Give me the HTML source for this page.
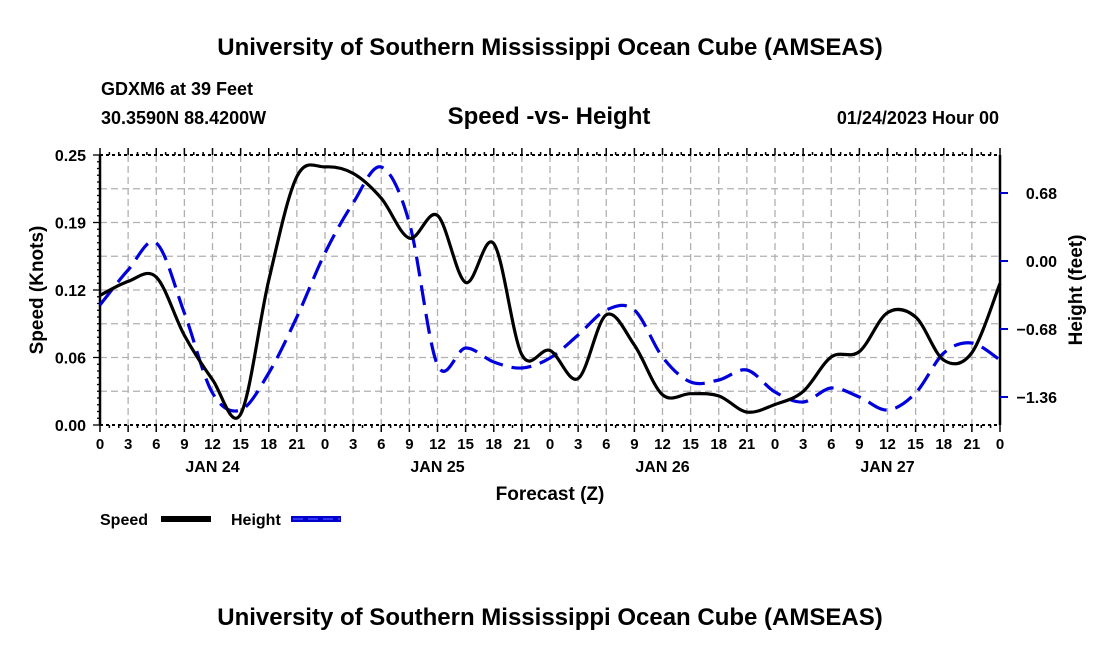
<!DOCTYPE html>
<html><head><meta charset="utf-8"><style>
body{margin:0;background:#fff;}
svg{display:block;font-family:"Liberation Sans",Arial,sans-serif;font-weight:bold;}
</style></head><body>
<svg id="chart" width="1100" height="650" viewBox="0 0 1100 650">
<text x="550" y="55" font-size="24" text-anchor="middle">University of Southern Mississippi Ocean Cube (AMSEAS)</text>
<text x="101" y="95" font-size="18">GDXM6 at 39 Feet</text>
<text x="101" y="124" font-size="18">30.3590N  88.4200W</text>
<text x="549" y="124" font-size="24" text-anchor="middle">Speed -vs- Height</text>
<text x="999" y="124" font-size="18" text-anchor="end">01/24/2023 Hour 00</text>
<text x="550" y="625" font-size="24" text-anchor="middle">University of Southern Mississippi Ocean Cube (AMSEAS)</text>
<g id="grid"></g>
<g id="axes"></g>
<g id="series"></g>
<text x="550" y="500" font-size="19" text-anchor="middle">Forecast (Z)</text>
<text transform="translate(43,290) rotate(-90)" font-size="19" text-anchor="middle">Speed (Knots)</text>
<text transform="translate(1082,290) rotate(-90)" font-size="19" text-anchor="middle">Height (feet)</text>
<g>
<text x="100" y="525" font-size="16">Speed</text>
<rect x="161" y="516" width="50" height="6" fill="#000"/>
<text x="231" y="525" font-size="16">Height</text>
<rect x="291" y="516" width="50" height="6" fill="#0000cc"/>
<line x1="293" y1="519" x2="340" y2="519" stroke="#4444ff" stroke-width="1.5" stroke-dasharray="10,5"/>
</g>
</svg>
<script>
const hours = [0,3,6,9,12,15,18,21,24,27,30,33,36,39,42,45,48,51,54,57,60,63,66,69,72,75,78,81,84,87,90,93,96];
const speedValues = [0.12,0.133,0.137,0.083,0.042,0.01,0.134,0.23,0.239,0.233,0.21,0.173,0.194,0.132,0.168,0.065,0.069,0.043,0.102,0.074,0.028,0.029,0.027,0.012,0.019,0.031,0.063,0.068,0.104,0.1,0.06,0.067,0.131];
const heightValues = [-0.44,-0.09,0.18,-0.52,-1.32,-1.49,-1.12,-0.56,0.08,0.58,0.94,0.38,-1.04,-0.87,-1.01,-1.07,-0.97,-0.74,-0.49,-0.49,-0.96,-1.21,-1.19,-1.09,-1.31,-1.41,-1.27,-1.36,-1.49,-1.32,-0.92,-0.82,-0.99];
const leftTicks = [0,0.0625,0.125,0.1875,0.25];
const leftLabels = ["0.00","0.06","0.12","0.19","0.25"];
const rightTicks = [0.68,0,-0.68,-1.36];
const rightLabels = ["0.68","0.00","\u22120.68","\u22121.36"];
const dayLabels = ["JAN 24","JAN 25","JAN 26","JAN 27"];

const X0=100,X1=1000,Y0=155,Y1=425;
const xS=h=>X0+(h/96)*(X1-X0);
const yL=v=>Y1-(v/0.25)*(Y1-Y0);
const yR=v=>261-v*100;
const NS="http://www.w3.org/2000/svg";
function mk(tag,attrs,parent){const e=document.createElementNS(NS,tag);for(const k in attrs)e.setAttribute(k,attrs[k]);parent.appendChild(e);return e;}
const grid=document.getElementById('grid'),axes=document.getElementById('axes'),ser=document.getElementById('series');

for(let i=1;i<32;i++){const l=mk('line',{x1:xS(i*3),x2:xS(i*3),y1:Y0,y2:Y1,stroke:'#b0b0b0','stroke-width':1.3,'stroke-dasharray':'7,4'},grid);

}
for(let i=1;i<8;i++){const y=Y1-i*(Y1-Y0)/8;const l=mk('line',{x1:X0,x2:X1,y1:y,y2:y,stroke:'#b0b0b0','stroke-width':1.3,'stroke-dasharray':'7,4'},grid);

}

const frame=mk('path',{d:`M${X0},${Y0}V${Y1}M${X1},${Y0}V${Y1}`,stroke:'#000','stroke-width':2.5,fill:'none'},axes);


const hl=mk('path',{d:`M${X0},${Y0}H${X1}M${X0},${Y1}H${X1}`,stroke:'#000','stroke-width':2,'stroke-dasharray':'3,3',fill:'none'},axes);


for(let h=0;h<=96;h++){const x=xS(h),len=h%3===0?7:3;
const t=mk('path',{d:`M${x},${Y1}v${len}M${x},${Y0}v${-len}`,stroke:'#000','stroke-width':1.5},axes);


if(h%3===0){const tx=mk('text',{x:x,y:449,'font-size':15,'text-anchor':'middle'},axes);tx.textContent=String(h%24);

}}
dayLabels.forEach((d,i)=>{const tx=mk('text',{x:xS(12+24*i),y:472,'font-size':16,'text-anchor':'middle'},axes);tx.textContent=d;

});
for(let i=0;i<=40;i++){const y=Y1-i*(Y1-Y0)/40;const t=mk('line',{x1:X0-(i%10===0?7:3),x2:X0,y1:y,y2:y,stroke:'#000','stroke-width':1.3},axes);

}
leftTicks.forEach((v,i)=>{const tx=mk('text',{x:86,y:yL(v)+6,'font-size':16,'text-anchor':'end'},axes);tx.textContent=leftLabels[i];

});
rightTicks.forEach((v,i)=>{const t=mk('line',{x1:X1,x2:X1+8,y1:yR(v),y2:yR(v),stroke:'#0000cc','stroke-width':2},axes);


const tx=mk('text',{x:1057,y:yR(v)+6,'font-size':16,'text-anchor':'end'},axes);tx.textContent=rightLabels[i];

});

function smooth(pts){let d=`M${pts[0][0]},${pts[0][1]}`;for(let i=0;i<pts.length-1;i++){const p0=pts[i-1]||pts[i],p1=pts[i],p2=pts[i+1],p3=pts[i+2]||p2;
d+=`C${p1[0]+(p2[0]-p0[0])/6},${p1[1]+(p2[1]-p0[1])/6} ${p2[0]-(p3[0]-p1[0])/6},${p2[1]-(p3[1]-p1[1])/6} ${p2[0]},${p2[1]}`;}return d;}
const hp=mk('path',{d:smooth(hours.map((h,i)=>[xS(h),yR(heightValues[i])])),stroke:'#0000dd','stroke-width':3.2,fill:'none','stroke-dasharray':'20,9'},ser);


const sp=mk('path',{d:smooth(hours.map((h,i)=>[xS(h),yL(speedValues[i])])),stroke:'#000','stroke-width':3.2,fill:'none'},ser);


</script>
</body></html>
